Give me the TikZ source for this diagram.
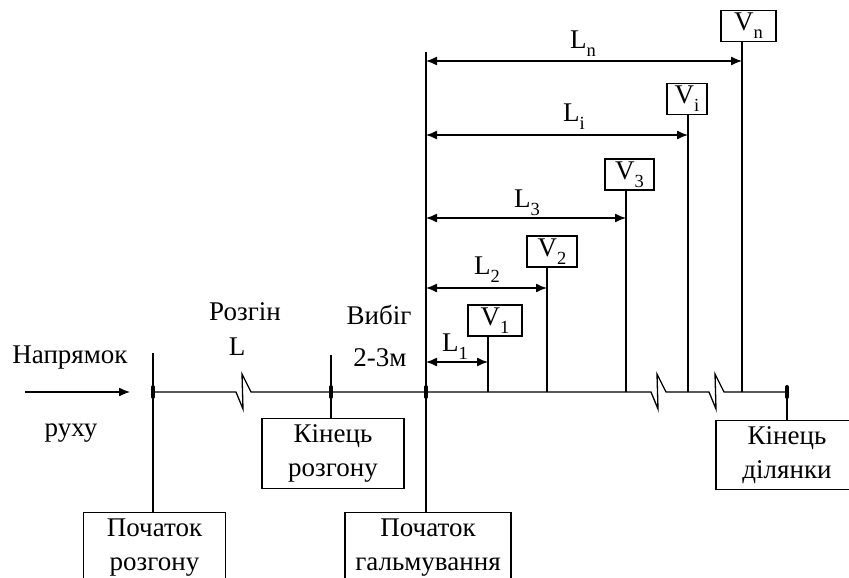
\documentclass[tikz,border=0pt]{standalone}
\usepackage{fontspec}
\setmainfont{Liberation Serif}
\usetikzlibrary{arrows.meta}

\newcommand{\idx}[2]{#1\raisebox{-0.3em}{\fontsize{18.5}{18.5}\selectfont #2}}

\begin{document}
\begin{tikzpicture}[x=1pt, y=-1pt, line width=1.3pt, >={Latex[length=11pt,width=9pt]},
  txt/.style={font=\fontsize{27}{34}\selectfont, inner sep=0pt},
  box/.style={txt, draw, align=center, inner ysep=6pt, minimum width=142pt, anchor=north},
  vbox/.style={txt, draw, minimum height=31pt, inner xsep=6pt},
  tick/.style={line width=4pt, line cap=round}]
  \useasboundingbox (0,0) rectangle (849,578);
  \clip (0,0) rectangle (849,578);

  % Points on the track
  \coordinate (t0) at (153,392);
  \coordinate (t1) at (331,392);
  \coordinate (t2) at (426,392);
  \coordinate (t3) at (787,392);
  \coordinate (p1) at (488,392);
  \coordinate (p2) at (547,392);
  \coordinate (p3) at (626,392);
  \coordinate (pi) at (688,392);
  \coordinate (pn) at (742,392);

  % Direction of motion
  \coordinate (a0) at (25,392);
  \coordinate (a1) at (130,392);
  \draw[->] (a0) -- (a1);
  \node[txt] (dir1) at (70,358) {Напрямок};
  \node[txt] (dir2) at (71,433) {руху};

  % Track with breaks
  \draw (t0) -- (236,392) -- ++(7,17) -- ++(-1,-35) -- ++(9,18)
    -- (651,392) -- ++(7,17) -- ++(-1,-35) -- ++(9,18)
    -- (709,392) -- ++(7,17) -- ++(-1,-35) -- ++(9,18) -- (t3);
  \foreach \p in {t0,t1,t2,t3}
    \draw[tick] (\p) ++(0,-5) -- ++(0,10);

  % Labelled boxes
  \node[box] (start) at (154.5,512) {Початок\\розгону};
  \node[box] (accend) at (333,418) {Кінець\\розгону};
  \node[box, minimum width=166pt] (brake) at (428,512) {Початок\\гальмування};
  \node[box] (fin) at (787,420) {Кінець\\ділянки};

  \draw (153,353) -- (t0 |- start.north);
  \draw (331,355) -- (t1 |- accend.north);
  \draw (426,52) -- (t2 |- brake.north);
  \draw (t3) -- (t3 |- fin.north);

  \node[txt] (acc) at (245,312) {Розгін};
  \node[txt] (accL) at (237,347) {L};
  \node[txt] (run) at (379,315) {Вибіг};
  \node[txt] (runL) at (380,358) {2-3м};

  % Speed points
  \node[vbox, minimum width=54pt] (v1) at (495,320.5) {\idx{V}{1}};
  \node[vbox, minimum width=50pt] (v2) at (552,251.5) {\idx{V}{2}};
  \node[vbox, minimum width=49pt] (v3) at (629.5,174.5) {\idx{V}{3}};
  \node[vbox, minimum width=40pt] (vi) at (687,99) {\idx{V}{i}};
  \node[vbox, minimum width=55pt] (vn) at (748.5,26) {\idx{V}{n}};

  \draw (p1) -- (p1 |- v1.south);
  \draw (p2) -- (p2 |- v2.south);
  \draw (p3) -- (p3 |- v3.south);
  \draw (pi) -- (pi |- vi.south);
  \draw (pn) -- (pn |- vn.south);

  % Distances
  \draw[<->] (426,362) -- (p1 |- 0,362);
  \draw[<->] (426,288) -- (p2 |- 0,288);
  \draw[<->] (426,218) -- (p3 |- 0,218);
  \draw[<->] (426,135) -- (pi |- 0,135);
  \draw[<->] (426,61) -- (pn |- 0,61);

  \node[txt] (l1) at (455,347) {\idx{L}{1}};
  \node[txt] (l2) at (487,270) {\idx{L}{2}};
  \node[txt] (l3) at (527,203) {\idx{L}{3}};
  \node[txt] (li) at (574,117) {\idx{L}{i}};
  \node[txt] (ln) at (583,44) {\idx{L}{n}};
\end{tikzpicture}
\end{document}
